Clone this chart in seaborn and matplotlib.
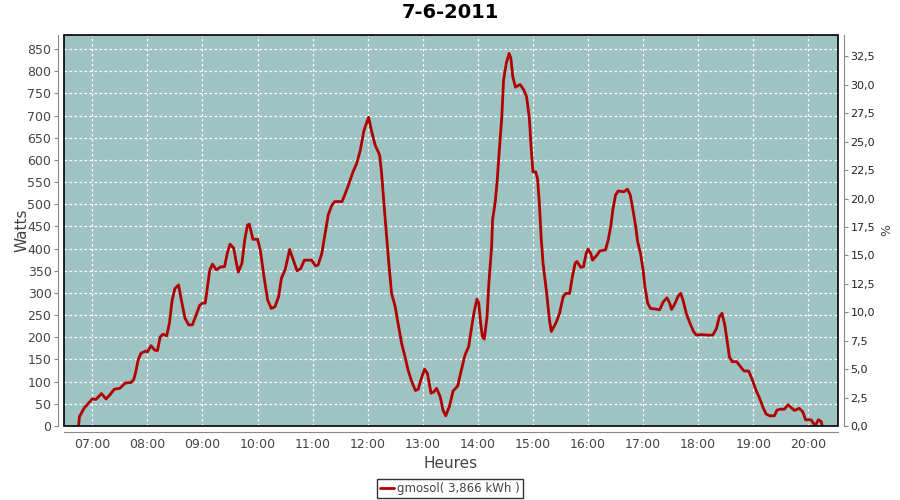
import pandas as pd
import matplotlib
matplotlib.use("Agg")
import matplotlib.pyplot as plt
import matplotlib.dates as mdates
from matplotlib.patches import Rectangle
from matplotlib.ticker import FuncFormatter, MultipleLocator
import seaborn as sns

# ----------------------------------------------------------------------
# Données (production du 7-6-2011)
# ----------------------------------------------------------------------
jour = "2011-06-07"
titre = "7-6-2011"
legende = "gmosol( 3,866 kWh )"

heures = [
    "06:45", "06:46", "06:51", "07:00", "07:04", "07:10", "07:15", "07:19", "07:24", "07:30",
    "07:36", "07:42", "07:45", "07:47", "07:50", "07:53", "07:58", "08:00", "08:04", "08:08",
    "08:11", "08:14", "08:17", "08:21", "08:24", "08:27", "08:30", "08:34", "08:37", "08:41",
    "08:45", "08:49", "08:53", "08:57", "09:00", "09:03", "09:05", "09:08", "09:11", "09:15",
    "09:20", "09:24", "09:27", "09:30", "09:34", "09:37", "09:39", "09:43", "09:46", "09:49",
    "09:51", "09:55", "10:00", "10:03", "10:07", "10:11", "10:15", "10:19", "10:23", "10:26",
    "10:30", "10:34", "10:35", "10:39", "10:43", "10:47", "10:51", "10:55", "10:59", "11:03",
    "11:06", "11:10", "11:14", "11:17", "11:21", "11:24", "11:32", "11:35", "11:39", "11:44",
    "11:48", "11:52", "11:56", "12:01", "12:04", "12:08", "12:13", "12:15", "12:18", "12:21",
    "12:23", "12:26", "12:30", "12:33", "12:37", "12:41", "12:44", "12:48", "12:52", "12:55",
    "12:59", "13:02", "13:05", "13:09", "13:12", "13:15", "13:19", "13:22", "13:25", "13:29",
    "13:33", "13:38", "13:42", "13:46", "13:50", "13:53", "13:56", "13:59", "14:01", "14:03",
    "14:05", "14:07", "14:10", "14:12", "14:15", "14:16", "14:19", "14:21", "14:23", "14:26",
    "14:28", "14:31", "14:34", "14:36", "14:38", "14:41", "14:46", "14:50", "14:53", "14:56",
    "14:58", "15:00", "15:03", "15:05", "15:07", "15:09", "15:11", "15:15", "15:18", "15:20",
    "15:25", "15:29", "15:33", "15:36", "15:40", "15:43", "15:46", "15:48", "15:52", "15:55",
    "15:58", "16:00", "16:03", "16:05", "16:10", "16:13", "16:19", "16:22", "16:25", "16:27",
    "16:30", "16:33", "16:39", "16:43", "16:46", "16:49", "16:52", "16:54", "16:57", "17:00",
    "17:02", "17:05", "17:08", "17:13", "17:18", "17:22", "17:26", "17:29", "17:31", "17:34",
    "17:38", "17:41", "17:44", "17:47", "17:51", "17:55", "17:58", "18:04", "18:11", "18:16",
    "18:20", "18:23", "18:26", "18:29", "18:32", "18:34", "18:37", "18:42", "18:46", "18:50",
    "18:55", "18:59", "19:03", "19:07", "19:11", "19:14", "19:18", "19:23", "19:26", "19:30",
    "19:34", "19:38", "19:41", "19:45", "19:50", "19:54", "19:57", "20:03", "20:06", "20:08",
    "20:11", "20:14", "20:15",
]

watts = [
    0, 21, 40, 61, 60, 73, 61, 70, 83, 85,
    97, 98, 104, 119, 149, 164, 169, 167, 181, 171,
    170, 201, 207, 203, 232, 284, 310, 318, 284, 243,
    228, 228, 250, 272, 277, 277, 307, 352, 365, 352,
    359, 359, 389, 410, 401, 367, 347, 367, 419, 453,
    455, 421, 421, 397, 337, 284, 265, 269, 292, 333,
    352, 389, 398, 374, 350, 355, 374, 374, 374, 361,
    363, 389, 438, 476, 498, 506, 506, 521, 543, 573,
    592, 622, 667, 696, 667, 634, 611, 573, 494, 419,
    367, 299, 269, 232, 186, 153, 126, 100, 80, 83,
    111, 128, 119, 74, 77, 85, 66, 36, 23, 44,
    79, 90, 126, 160, 179, 220, 258, 286, 277, 232,
    201, 196, 246, 322, 404, 464, 506, 551, 611, 694,
    780, 818, 840, 829, 788, 764, 770, 758, 743, 697,
    630, 573, 573, 558, 502, 423, 367, 299, 239, 213,
    232, 254, 292, 299, 299, 337, 367, 371, 358, 359,
    389, 399, 389, 374, 386, 395, 397, 419, 453, 487,
    521, 530, 528, 534, 521, 487, 449, 416, 391, 352,
    314, 277, 265, 264, 262, 280, 289, 277, 263, 273,
    292, 299, 280, 254, 232, 213, 205, 206, 205, 205,
    220, 246, 254, 228, 186, 156, 145, 145, 134, 124,
    124, 104, 81, 62, 40, 27, 23, 23, 36, 38,
    38, 48, 42, 35, 40, 32, 14, 14, 5, 2,
    14, 10, 2,
]

df = pd.DataFrame({"heure": pd.to_datetime([jour + " " + h for h in heures]), "watts": watts})

# ----------------------------------------------------------------------
# Style
# ----------------------------------------------------------------------
sns.set_style("white")
plt.rcParams["font.family"] = ["DejaVu Sans"]

fond = "#9ec3c2"
rouge = "#b00000"
gris = "#444444"

fig = plt.figure(figsize=(9, 5), dpi=100)
ax = fig.add_axes([64 / 900, 1 - 426 / 500, 774 / 900, 391 / 500])
ax.set_facecolor(fond)

sns.lineplot(data=df, x="heure", y="watts", ax=ax, color=rouge, linewidth=2, label=legende)
ax.get_legend().remove()

ax.set_xlim(pd.Timestamp(jour + " 06:29:10"), pd.Timestamp(jour + " 20:32:20"))
ax.set_ylim(0, 881.6)
ax.yaxis.set_major_locator(MultipleLocator(50))
ax.xaxis.set_major_locator(mdates.HourLocator())
ax.xaxis.set_major_formatter(mdates.DateFormatter("%H:%M"))

ax.grid(True, color="white", linestyle=(0, (2, 2)), linewidth=0.9)
ax.set_axisbelow(True)

for nom in ["top", "right"]:
    ax.spines[nom].set_visible(False)
for nom in ["left", "bottom"]:
    ax.spines[nom].set_position(("outward", 4))
    ax.spines[nom].set_color("#888888")
ax.add_patch(Rectangle((0, 0), 1, 1, transform=ax.transAxes, fill=False,
                       edgecolor="black", linewidth=1.2, zorder=5, clip_on=False))

ax.tick_params(axis="both", colors="#888888", labelcolor=gris, labelsize=9,
               length=3, width=0.8, direction="out", pad=2)
ax.set_xlabel("Heures", fontsize=11, color=gris, labelpad=3)
ax.set_ylabel("Watts", fontsize=11, color=gris)
ax.yaxis.set_label_coords(-0.044, 0.5)

# axe secondaire en pourcentage
ax2 = ax.twinx()
ax2.set_ylim(0, 34.39)
ax2.yaxis.set_major_locator(MultipleLocator(2.5))
ax2.yaxis.set_major_formatter(FuncFormatter(lambda v, p: f"{v:.1f}".replace(".", ",")))
for nom in ["top", "left", "bottom"]:
    ax2.spines[nom].set_visible(False)
ax2.spines["right"].set_position(("outward", 4))
ax2.spines["right"].set_color("#888888")
ax2.tick_params(axis="y", colors="#888888", labelcolor="#222222", labelsize=8,
                length=3, width=0.8, pad=2)
ax2.set_ylabel("%", fontsize=9, color=gris)
ax2.yaxis.set_label_coords(1.054, 0.5)
ax2.grid(False)

fig.suptitle(titre, x=0.5, y=0.995, fontsize=14, fontweight="bold", color="black")

handles, labels = ax.get_legend_handles_labels()
fig.legend(handles, labels, loc="lower center", bbox_to_anchor=(0.5, 0.0),
           frameon=True, fancybox=False, edgecolor="black", fontsize=8.5,
           handlelength=1.2, handletextpad=0.3, borderpad=0.25, borderaxespad=0.2,
           labelcolor=gris)

fig.savefig("out.png", dpi=100)
